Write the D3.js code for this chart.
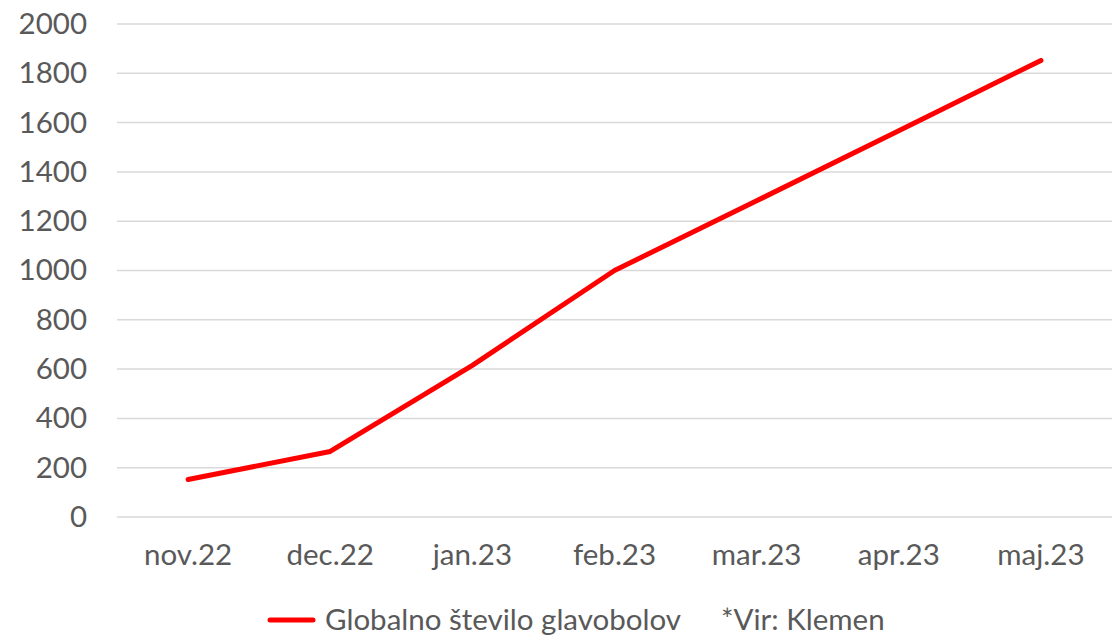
<!DOCTYPE html>
<html>
<head>
<meta charset="utf-8">
<script src="https://cdn.jsdelivr.net/npm/d3@7"></script>
<style>
  html, body { margin: 0; padding: 0; background: #fff; }
  svg text { font-family: Lato, "Open Sans", sans-serif; fill: #595959; }
</style>
</head>
<body>
<svg id="chart" width="1117" height="636"></svg>
<script>
const categories = ["nov.22", "dec.22", "jan.23", "feb.23", "mar.23", "apr.23", "maj.23"];
const values = [152, 266, 615, 1000, 1283, 1567, 1852];
const yTicks = [0, 200, 400, 600, 800, 1000, 1200, 1400, 1600, 1800, 2000];
const seriesName = "Globalno število glavobolov";
const sourceNote = "*Vir: Klemen";

const FS = 29.5;
const svg = d3.select("#chart");
const margin = { left: 117, right: 5, top: 24, bottom: 119 };
const W = 1117, H = 636;

const x = d3.scaleBand().domain(categories).range([margin.left, W - margin.right]);
const y = d3.scaleLinear().domain([0, 2000]).range([H - margin.bottom, margin.top]);

// gridlines
svg.append("g")
  .selectAll("line")
  .data(yTicks)
  .join("line")
  .attr("x1", margin.left).attr("x2", W - margin.right)
  .attr("y1", d => y(d)).attr("y2", d => y(d))
  .attr("stroke", "#d9d9d9").attr("stroke-width", 1.5);

// y axis labels
const yAxis = d3.axisLeft(y).tickValues(yTicks).tickFormat(d3.format("d")).tickSize(0).tickPadding(30);
const yg = svg.append("g").attr("transform", `translate(${margin.left},0)`).call(yAxis);
yg.select(".domain").remove();
yg.selectAll("text").attr("font-size", FS).style("font-family", "Lato, sans-serif").attr("fill", "#595959");

// x axis labels
const xAxis = d3.axisBottom(x).tickSize(0).tickPadding(27);
const xg = svg.append("g").attr("transform", `translate(0,${y(0)})`).call(xAxis);
xg.select(".domain").remove();
xg.selectAll("text").attr("font-size", FS).style("font-family", "Lato, sans-serif").attr("fill", "#595959");

// line
const line = d3.line()
  .x((d, i) => x(categories[i]) + x.bandwidth() / 2)
  .y(d => y(d));
svg.append("path")
  .datum(values)
  .attr("d", line)
  .attr("fill", "none")
  .attr("stroke", "#ff0000")
  .attr("stroke-width", 5)
  .attr("stroke-linecap", "round")
  .attr("stroke-linejoin", "round");

// legend
const lg = svg.append("g");
lg.append("line")
  .attr("x1", 270).attr("x2", 313).attr("y1", 620).attr("y2", 620)
  .attr("stroke", "#ff0000").attr("stroke-width", 5).attr("stroke-linecap", "round");
lg.append("text").attr("x", 325).attr("y", 620).attr("dy", "0.35em")
  .attr("font-size", FS).text(seriesName);
lg.append("text").attr("x", 721).attr("y", 620).attr("dy", "0.35em")
  .attr("font-size", FS).text(sourceNote);
</script>
</body>
</html>
